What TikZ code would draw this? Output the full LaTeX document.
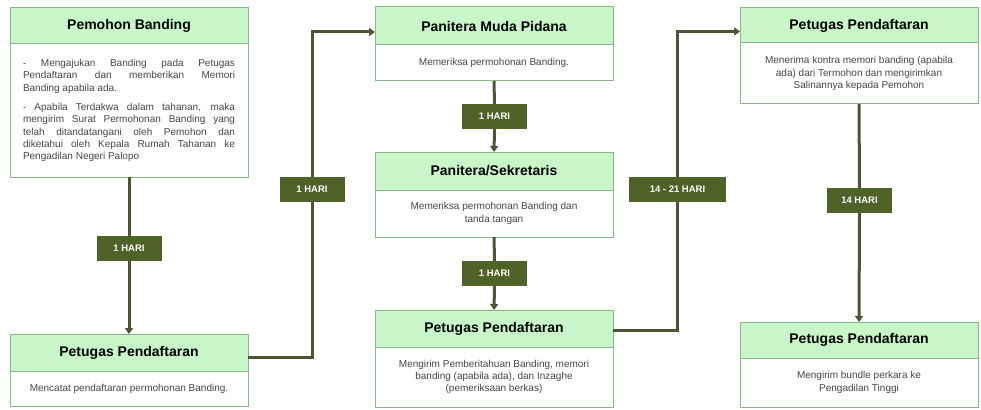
\documentclass[tikz,border=0pt]{standalone}
\usepackage{fontspec}
\setmainfont{Liberation Sans}
\usetikzlibrary{arrows.meta}

\definecolor{headgreen}{RGB}{200,246,200}
\definecolor{edgegreen}{RGB}{135,185,135}
\definecolor{olive}{RGB}{79,98,40}
\definecolor{linec}{RGB}{80,84,55}
\definecolor{bodytext}{RGB}{70,70,70}

\begin{document}
\begin{tikzpicture}[
    x=1pt, y=-1pt,
    head/.style={draw=edgegreen, line width=1pt, fill=headgreen, anchor=north west,
      minimum width=238pt, minimum height=#1, inner sep=0pt, outer sep=0pt,
      font=\fontsize{14}{16}\selectfont\bfseries},
    body/.style={draw=edgegreen, line width=1pt, fill=white, anchor=north,
      minimum width=238pt, minimum height=#1, inner sep=0pt, outer sep=0pt,
      align=center, text=bodytext, font=\fontsize{10}{12.3}\selectfont},
    hari/.style={fill=olive, text=white, minimum width=65pt, minimum height=25pt,
      inner sep=0pt, font=\fontsize{9.5}{10}\selectfont\bfseries},
    flow/.style={draw=linec, line width=3pt},
    arr/.style={flow, -{Triangle[length=6pt,width=8pt]}}]

      \useasboundingbox (0,0) rectangle (981,409);

      % left column
      \node[head=36pt] (b1head) at (10,8) {Pemohon Banding};
      \node[body=133pt, text width=212pt, align=justify] (b1body) at (b1head.south)
        {\hyphenpenalty=10000
         -\ Mengajukan Banding pada Petugas\linebreak
         Pendaftaran dan memberikan Memori\linebreak
         Banding apabila ada.\par\vspace{7pt}
         -\ Apabila Terdakwa dalam tahanan, maka\linebreak
         mengirim Surat Permohonan Banding yang\linebreak
         telah ditandatangani oleh Pemohon dan\linebreak
         diketahui oleh Kepala Rumah Tahanan ke\linebreak
         Pengadilan Negeri Palopo};

      \node[head=37pt] (b2head) at (10,334) {Petugas Pendaftaran};
      \node[body=35pt] (b2body) at (b2head.south) {Mencatat pendaftaran permohonan Banding.};

      % middle column
      \node[head=38pt] (b3head) at (375,7) {Panitera Muda Pidana};
      \node[body=36pt] (b3body) at (b3head.south) {Memeriksa permohonan Banding.};

      \node[head=38pt] (b4head) at (375,152) {Panitera/Sekretaris};
      \node[body=47pt] (b4body) at (b4head.south) {Memeriksa permohonan Banding dan\\tanda tangan};

      \node[head=37pt] (b5head) at (375,310) {Petugas Pendaftaran};
      \node[body=60pt] (b5body) at (b5head.south)
        {Mengirim Pemberitahuan Banding, memori\\banding (apabila ada), dan Inzaghe\\(pemeriksaan berkas)};

      % right column
      \node[head=35pt] (b6head) at (740,8) {Petugas Pendaftaran};
      \node[body=61pt] (b6body) at (b6head.south)
        {Menerima kontra memori banding (apabila\\ada) dari Termohon dan mengirimkan\\Salinannya kepada Pemohon};

      \node[head=36pt] (b7head) at (740,322) {Petugas Pendaftaran};
      \node[body=49pt] (b7body) at (b7head.south) {Mengirim bundle perkara ke\\Pengadilan Tinggi};

      % durations
      \node[hari] (h1) at (129,248.5) {1 HARI};
      \node[hari] (h2) at (312,189.5) {1 HARI};
      \node[hari] (h3) at (494.5,116.5) {1 HARI};
      \node[hari] (h4) at (494.5,273.5) {1 HARI};
      \node[hari, minimum width=97pt] (h5) at (677.5,189.5) {14 - 21 HARI};
      \node[hari] (h6) at (859.5,200.5) {14 HARI};

      \draw[flow] (b1body.south) -- (h1.north);
      \draw[arr] (h1.south) -- (b2head.north);

      \draw[flow] ([yshift=-4.5pt]b2head.east) -| (h2.south);
      \draw[arr] (h2.north) |- ([yshift=-6pt]b3head.west);

      \draw[flow] (b3body.south) -- (h3.north);
      \draw[arr] (h3.south) -- (b4head.north);

      \draw[flow] (b4body.south) -- (h4.north);
      \draw[arr] (h4.south) -- (b5head.north);

      \draw[flow] ([yshift=-1.5pt]b5head.east) -| (h5.south);
      \draw[arr] (h5.north) |- ([yshift=-6pt]b6head.west);

      \draw[flow] (b6body.south) -- (h6.north);
      \draw[arr] (h6.south) -- (b7head.north);

    \end{tikzpicture}
\end{document}
